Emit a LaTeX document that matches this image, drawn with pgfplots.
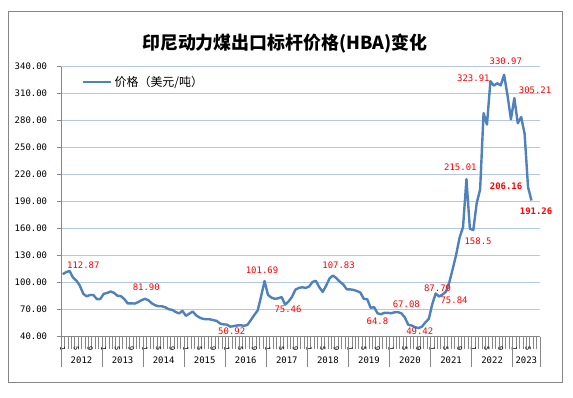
\documentclass[border=0pt]{standalone}
\usepackage{pgfplots}
\pgfplotsset{compat=1.18}
\usepackage{pgfplotstable}
\usepackage{fontspec}
\newfontfamily\cjk{Noto Sans CJK SC}
\newfontfamily\mono{DejaVu Sans Mono}
\definecolor{lineblue}{RGB}{79,129,189}
\definecolor{gridblue}{RGB}{180,199,231}
\definecolor{axgray}{RGB}{134,134,134}
\definecolor{lblred}{RGB}{255,0,0}
\pgfplotstableread{
idx val
0 109.29
1 111.58
2 112.87
3 105.61
4 102.12
5 96.65
6 87.56
7 84.65
8 86.21
9 86.04
10 81.44
11 81.75
12 87.55
13 88.35
14 90.08
15 88.56
16 85.33
17 84.87
18 81.69
19 76.70
20 76.89
21 76.61
22 78.09
23 80.31
24 81.90
25 80.44
26 77.01
27 74.81
28 73.60
29 73.64
30 72.45
31 70.29
32 69.69
33 67.26
34 65.70
35 68.50
36 63.00
37 65.40
38 67.76
39 63.50
40 61.08
41 59.59
42 59.16
43 59.14
44 58.21
45 57.39
46 54.43
47 53.51
48 53.20
49 50.92
50 51.62
51 52.32
52 52.55
53 51.87
54 53.00
55 58.37
56 63.93
57 69.07
58 84.89
59 101.69
60 86.23
61 83.32
62 81.90
63 82.51
64 83.81
65 75.46
66 78.95
67 83.97
68 92.03
69 93.99
70 94.80
71 94.04
72 95.54
73 100.69
74 101.86
75 94.75
76 89.53
77 96.61
78 104.65
79 107.83
80 104.81
81 100.89
82 97.90
83 92.51
84 92.41
85 91.80
86 90.57
87 88.85
88 81.86
89 81.48
90 71.92
91 72.67
92 65.79
93 64.80
94 66.27
95 66.30
96 65.93
97 66.89
98 67.08
99 65.77
100 61.11
101 52.98
102 52.16
103 50.34
104 49.42
105 51.00
106 55.71
107 59.65
108 75.84
109 87.79
110 84.47
111 86.68
112 89.74
113 100.33
114 115.35
115 130.99
116 150.03
117 161.63
118 215.01
119 159.79
120 158.50
121 188.38
122 203.69
123 288.40
124 275.64
125 323.91
126 319.00
127 321.59
128 319.22
129 330.97
130 308.20
131 281.48
132 305.21
133 277.05
134 284.00
135 265.30
136 206.16
137 191.26
}\hba
\begin{document}
\begin{tikzpicture}[x=1bp,y=1bp]
\useasboundingbox (0,0) rectangle (573,397);
\fill[white] (0,0) rectangle (573,397);
\draw[axgray, line width=1bp] (8,15) rectangle (562,385);
\node[font=\cjk\bfseries\fontsize{18}{20}\selectfont] at (285,353) {印尼动力煤出口标杆价格(HBA)变化};
\begin{axis}[
  at={(61bp,60.5bp)}, anchor=south west,
  scale only axis, width=479bp, height=269.8bp,
  xmin=-0.5, xmax=139.5, ymin=40, ymax=340,
  clip=false,
  axis x line*=bottom, axis y line*=left,
  axis line style={axgray, line width=0.8bp},
  ytick={40,70,100,130,160,190,220,250,280,310,340},
  ymajorgrids, grid style={gridblue, line width=0.8bp},
  /pgf/number format/assume math mode=true,
  yticklabel style={font=\mono\fontsize{9}{10}\selectfont, inner sep=0pt, xshift=-9.7bp,
    /pgf/number format/.cd, fixed, fixed zerofill, precision=2},
  xtick={0,4,...,136},
  xticklabels={1,5,9,1,5,9,1,5,9,1,5,9,1,5,9,1,5,9,1,5,9,1,5,9,1,5,9,1,5,9,1,5,9,1,5},
  major x tick style={draw=none},
  minor xtick={-0.5,0.5,...,139.5},
  minor tick length=12bp,
  major tick length=4bp,
  tick align=outside,
  tick style={axgray, line width=0.6bp},
  xticklabel style={yshift=-8.5bp, rotate=-90, anchor=center, inner sep=0pt, font=\mono\fontsize{7}{7}\selectfont},
  legend style={draw=none, fill=none, at={(axis description cs:0.0436,0.944)}, anchor=west,
    font=\cjk\fontsize{12}{13}\selectfont, inner sep=0pt},
  legend image code/.code={\draw[#1, line width=2.6bp] (0bp,0bp) -- (28bp,0bp);},
]
\addplot[lineblue, line width=2.4bp, line join=round, mark=none] table[x=idx,y=val]{\hba};
\addlegendentry{价格（美元/吨）}
\pgfplotsinvokeforeach{-0.5,11.5,23.5,35.5,47.5,59.5,71.5,83.5,95.5,107.5,119.5,131.5,139.5}{
  \draw[axgray, line width=0.6bp] (axis cs:#1,40) -- ([yshift=-30bp]axis cs:#1,40);
}
\pgfplotsinvokeforeach{0,...,10}{
  \node[font=\mono\fontsize{9}{10}\selectfont, yshift=-23.5bp] at (axis cs:#1*12+5.5,40) {\the\numexpr2012+#1\relax};
}
\node[font=\mono\fontsize{9}{10}\selectfont, yshift=-23.5bp] at (axis cs:135.5,40) {2023};
\begin{scope}[every node/.style={font=\mono\fontsize{9}{10}\selectfont, text=lblred, inner sep=0pt}]
\node at (axis cs:6.02,118.9) {112.87};
\node at (axis cs:24.43,95) {81.90};
\node at (axis cs:49.4,46.3) {50.92};
\node at (axis cs:58.25,113.9) {101.69};
\node at (axis cs:65.85,70) {75.46};
\node at (axis cs:80.62,118.9) {107.83};
\node at (axis cs:92.0,56.7) {64.8};
\node at (axis cs:100.43,76.4) {67.08};
\node at (axis cs:104.35,45.9) {49.42};
\node at (axis cs:109.56,94.2) {87.79};
\node at (axis cs:114.38,79.8) {75.84};
\node at (axis cs:116.22,228) {215.01};
\node at (axis cs:121.4,146.4) {158.5};
\node at (axis cs:120.02,326.9) {323.91};
\node at (axis cs:129.5,346.4) {330.97};
\node at (axis cs:138.06,313.9) {305.21};
\node[font=\mono\bfseries\fontsize{9}{10}\selectfont] at (axis cs:129.58,207.6) {206.16};
\node[font=\mono\bfseries\fontsize{9}{10}\selectfont] at (axis cs:138.35,179.4) {191.26};
\end{scope}
\end{axis}
\end{tikzpicture}
\end{document}
